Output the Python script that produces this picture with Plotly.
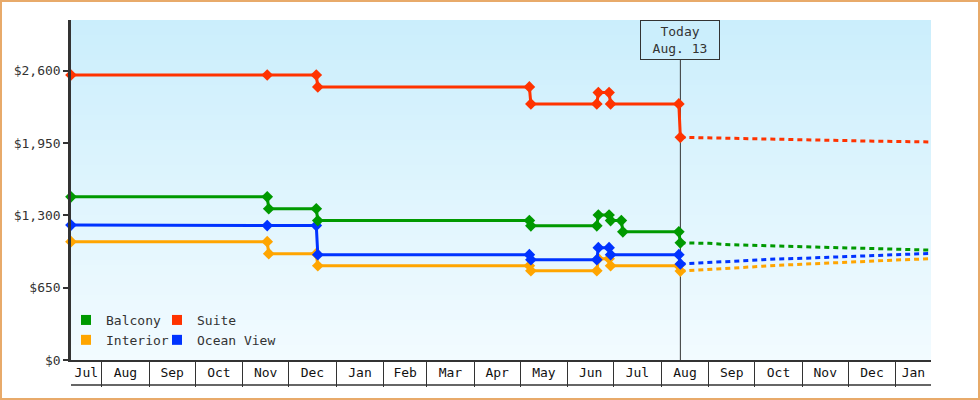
import plotly.graph_objects as go
import pandas as pd

# ---------------- data ----------------
interior_dates = ["2013-07-12", "2013-11-17", "2013-11-18", "2013-12-19", "2013-12-20",
                  "2014-05-07", "2014-05-08", "2014-06-20", "2014-06-21", "2014-06-28",
                  "2014-06-29", "2014-08-12 12:00", "2014-08-13 12:00"]
interior_prices = [1063, 1063, 955, 955, 847, 847, 802, 802, 910, 910, 847, 847, 799]

ocean_dates = ["2013-07-12", "2013-11-17", "2013-12-19", "2013-12-20",
               "2014-05-07", "2014-05-08", "2014-06-20", "2014-06-21", "2014-06-28",
               "2014-06-29", "2014-08-12 12:00", "2014-08-13 12:00"]
ocean_prices = [1212, 1208, 1208, 946, 946, 901, 901, 1009, 1009, 946, 946, 863]

balcony_dates = ["2013-07-12", "2013-11-17", "2013-11-18", "2013-12-19", "2013-12-20",
                 "2014-05-07", "2014-05-08", "2014-06-20", "2014-06-21", "2014-06-28",
                 "2014-06-29", "2014-07-06", "2014-07-07", "2014-08-12 12:00", "2014-08-13 12:00"]
balcony_prices = [1466, 1466, 1359, 1359, 1253, 1253, 1206, 1206, 1303, 1303, 1253, 1253, 1152, 1152, 1053]

suite_dates = ["2013-07-12", "2013-11-17", "2013-12-19", "2013-12-20",
               "2014-05-07", "2014-05-08", "2014-06-20", "2014-06-21", "2014-06-28",
               "2014-06-29", "2014-08-12 12:00", "2014-08-13 12:00"]
suite_prices = [2561, 2561, 2561, 2454, 2454, 2301, 2301, 2403, 2403, 2301, 2301, 2001]

forecast_dates = ["2014-08-13 12:00", "2014-09-01", "2014-09-15", "2014-10-01", "2014-10-15",
                  "2014-11-01", "2014-11-15", "2014-12-01", "2014-12-15", "2015-01-01", "2015-01-24"]
interior_forecast = [799, 812, 824, 838, 850, 861, 871, 882, 890, 898, 910]
ocean_forecast = [863, 876, 888, 900, 907, 914, 921, 930, 937, 948, 958]
balcony_forecast = [1053, 1048, 1036, 1030, 1025, 1020, 1014, 1006, 1000, 995, 987]
suite_forecast = [2001, 1997, 1994, 1990, 1985, 1980, 1976, 1971, 1967, 1963, 1959]

today = "2014-08-13 12:00"
today_label = "Today<br>Aug. 13"
x_range = ["2013-07-12", "2015-01-24"]
y_range = [0, 3055]
y_ticks = [0, 650, 1300, 1950, 2600]
y_tick_labels = ["&#36;0", "&#36;650", "&#36;1,300", "&#36;1,950", "&#36;2,600"]

# ---------------- styling ----------------
FONT = "DejaVu Sans Mono"
INK = "#333333"
COL = {"Interior": "#ffa500", "Ocean View": "#0033ff", "Balcony": "#009900", "Suite": "#ff3300"}
W, H = 980, 400
ML, MR, MT, MB = 71, 49, 20, 40
PW, PH = W - ML - MR, H - MT - MB
TOP_BG = (203, 238, 252)
BOT_BG = (242, 251, 255)

fig = go.Figure()

series = [
    ("Interior", interior_dates, interior_prices, interior_forecast),
    ("Ocean View", ocean_dates, ocean_prices, ocean_forecast),
    ("Balcony", balcony_dates, balcony_prices, balcony_forecast),
    ("Suite", suite_dates, suite_prices, suite_forecast),
]
for name, d, p, f in series:
    fig.add_trace(go.Scatter(
        x=forecast_dates, y=f, mode="lines", name=name + " forecast",
        line=dict(color=COL[name], width=3, dash="5px,4px"),
        showlegend=False, hoverinfo="skip", cliponaxis=False))
for name, d, p, f in series:
    fig.add_trace(go.Scatter(
        x=d, y=p, mode="lines+markers", name=name,
        line=dict(color=COL[name], width=3),
        marker=dict(symbol="diamond", size=9, color=COL[name]),
        showlegend=False, cliponaxis=False))

# legend entries (two columns)
for name, lg in [("Balcony", "legend"), ("Interior", "legend"),
                 ("Suite", "legend2"), ("Ocean View", "legend2")]:
    fig.add_trace(go.Scatter(
        x=[None], y=[None], mode="markers", name=name, legend=lg,
        marker=dict(symbol="square", size=10, color=COL[name])))

# month axis: labels centred in the visible part of each month
start, end = pd.Timestamp(x_range[0]), pd.Timestamp(x_range[1])
bounds = list(pd.date_range(start.to_period("M").to_timestamp() + pd.offsets.MonthBegin(1), end, freq="MS"))
edges = [start] + bounds + [end]
centers, labels = [], []
for a, b in zip(edges[:-1], edges[1:]):
    centers.append(a + (b - a) / 2)
    labels.append(a.strftime("%b"))

shapes = []
# gradient background
nb = 68
for i in range(nb):
    t = i / (nb - 1)
    c = tuple(round(TOP_BG[k] + (BOT_BG[k] - TOP_BG[k]) * t) for k in range(3))
    shapes.append(dict(type="rect", xref="paper", yref="paper", x0=0, x1=1,
                       y0=1 - (i + 1) / nb, y1=1 - i / nb, layer="below",
                       fillcolor="rgb(%d,%d,%d)" % c, line=dict(width=0)))
# today line
shapes.append(dict(type="line", xref="x", yref="paper", x0=today, x1=today, y0=0, y1=1,
                   layer="below", line=dict(color=INK, width=1)))
# bottom line of month boxes
shapes.append(dict(type="line", xref="paper", yref="paper", x0=0, x1=1,
                   y0=-25 / PH, y1=-25 / PH, line=dict(color=INK, width=1.5)))
# outer frame
shapes.append(dict(type="rect", xref="paper", yref="paper",
                   x0=(-ML + 1) / PW, x1=(W - ML - 1) / PW,
                   y0=(-MB + 1) / PH, y1=(PH + MT - 1) / PH,
                   line=dict(color="#e8aa6a", width=2), layer="above"))

fig.update_layout(
    width=W, height=H,
    margin=dict(l=ML, r=MR, t=MT, b=MB, pad=0),
    paper_bgcolor="white", plot_bgcolor="white",
    font=dict(family=FONT, size=13, color=INK),
    shapes=shapes,
    legend=dict(x=(66 - ML) / PW, y=(360 - 305) / PH, xanchor="left", yanchor="top",
                bgcolor="rgba(0,0,0,0)", font=dict(family=FONT, size=13, color=INK),
                itemwidth=30, tracegroupgap=0),
    legend2=dict(x=(157 - ML) / PW, y=(360 - 305) / PH, xanchor="left", yanchor="top",
                 bgcolor="rgba(0,0,0,0)", font=dict(family=FONT, size=13, color=INK),
                 itemwidth=30, tracegroupgap=0),
    annotations=[dict(x=today, y=1, xref="x", yref="paper", xanchor="center", yanchor="top",
                      text=today_label, showarrow=False, align="center",
                      bordercolor=INK, borderwidth=1, borderpad=3, width=72,
                      bgcolor="rgb(%d,%d,%d)" % TOP_BG,
                      font=dict(family=FONT, size=13, color=INK))],
    hovermode=False,
)
fig.update_xaxes(
    type="date", range=x_range, showgrid=False, zeroline=False,
    showline=True, linecolor=INK, linewidth=1.5,
    tickmode="array", tickvals=centers, ticktext=labels, ticks="",
    tickfont=dict(family=FONT, size=13, color="#111111"),
    minor=dict(tickmode="linear", tick0=bounds[0], dtick="M1", ticks="outside",
               ticklen=25, tickwidth=1, tickcolor=INK, showgrid=False),
)
fig.update_yaxes(
    range=y_range, showgrid=False, zeroline=False,
    showline=True, linecolor=INK, linewidth=2.5,
    tickmode="array", tickvals=y_ticks, ticktext=y_tick_labels,
    ticks="outside", ticklen=5, tickwidth=2, tickcolor=INK,
    tickfont=dict(family=FONT, size=13, color="#333333"),
)

fig.write_html("out.html", config={"displayModeBar": False},
               post_script="document.body.style.margin='0px';")
